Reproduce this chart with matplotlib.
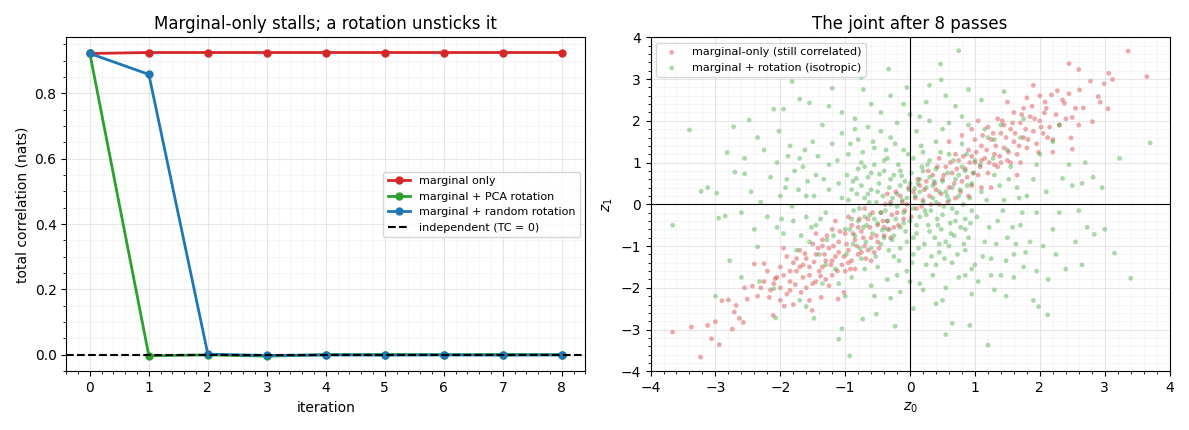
import matplotlib
matplotlib.use("Agg")
import matplotlib.pyplot as plt
import numpy as np

# left panel: total correlation per iteration
iters = [0, 1, 2, 3, 4, 5, 6, 7, 8]
tc_marginal = [0.922, 0.925, 0.925, 0.925, 0.925, 0.925, 0.925, 0.925, 0.925]
tc_pca = [0.922, -0.003, 0.000, -0.004, 0.000, 0.001, 0.000, 0.001, 0.000]
tc_random = [0.922, 0.858, 0.002, -0.002, 0.000, -0.001, 0.000, -0.001, 0.000]

# right panel: samples (a thinned, hand-estimated subset)
red_pts = [
    (-3.66, -3.06), (-3.37, -2.94), (-3.23, -3.66), (-3.06, -3.22), (-2.94, -3.36), (-3.0, -2.81),
    (-3.12, -2.90), (-2.90, -2.31), (-2.80, -2.29), (-2.74, -2.99), (-2.63, -2.73), (-2.57, -2.83),
    (-2.71, -2.58), (-2.68, -2.42), (-2.51, -2.27), (-2.43, -1.96), (-2.40, -1.43), (-2.25, -1.42),
    (-2.17, -2.23), (-2.08, -1.78), (-2.11, -2.66), (-1.94, -2.44), (-1.85, -2.06), (-1.77, -1.92),
    (-1.68, -2.11), (-1.51, -2.54), (-1.37, -2.23), (-1.02, -2.11), (-1.11, -2.27),
    (-2.3, -2.0), (-2.2, -1.6), (-2.0, -2.0), (-2.0, -1.5), (-1.95, -1.7), (-1.9, -1.25), (-1.85, -1.85),
    (-1.8, -1.4), (-1.75, -1.6), (-1.7, -1.1), (-1.65, -1.75), (-1.6, -1.3), (-1.55, -1.5), (-1.5, -0.95),
    (-1.5, -1.9), (-1.45, -1.2), (-1.4, -1.6), (-1.35, -0.85), (-1.3, -1.35), (-1.25, -1.05), (-1.2, -1.7),
    (-1.2, -0.6), (-1.15, -1.25), (-1.1, -0.9), (-1.05, -1.45), (-1.0, -0.7), (-0.95, -1.1), (-0.9, -0.5),
    (-0.9, -1.35), (-0.85, -0.85), (-0.8, -1.2), (-0.75, -0.65), (-0.7, -1.0), (-0.65, -0.35), (-0.6, -0.8),
    (-0.55, -1.15), (-0.5, -0.5), (-0.45, -0.2), (-0.4, -0.75), (-0.35, -0.4), (-0.3, 0.05), (-0.25, -0.55),
    (-0.2, -0.2), (-0.15, 0.2), (-0.1, -0.35), (-0.05, 0.0), (-2.1, -1.9), (-1.6, -2.0), (-1.3, -1.8),
    (-1.0, -1.6), (-1.75, -1.3), (-1.45, -0.7), (-1.15, -0.4), (-2.35, -2.2), (-2.55, -2.0), (-2.0, -2.3),
    (-1.9, -2.15), (-1.25, -1.95), (-0.85, -1.55), (-0.6, -1.35), (-1.35, -1.0), (-0.95, -0.3), (-0.7, -0.1),
    (-0.5, -0.9), (-0.3, -0.8), (-0.35, 0.25), (-1.55, -2.3), (-1.8, -2.4), (-1.1, -1.15), (-0.8, -0.55),
    (-0.65, -1.1), (-0.4, -0.55), (-1.95, -1.05), (-1.65, -1.45),
    (3.36, 3.67), (3.65, 3.06), (3.12, 2.99), (3.06, 3.14), (2.45, 3.37), (2.6, 3.23), (2.99, 2.89),
    (2.78, 2.95), (2.61, 2.74), (2.90, 2.58), (2.93, 2.45), (3.05, 2.29), (2.81, 1.98), (2.67, 2.31),
    (2.5, 2.08), (2.38, 2.42), (2.27, 2.72), (2.18, 2.62), (2.48, 1.59), (2.5, 1.32), (2.07, 2.19),
    (0.05, 0.3), (0.1, -0.1), (0.15, 0.45), (0.2, 0.1), (0.25, 0.55), (0.3, 0.2), (0.35, 0.7), (0.4, 0.35),
    (0.45, 0.0), (0.5, 0.6), (0.55, 0.9), (0.6, 0.4), (0.65, 0.75), (0.7, 0.15), (0.75, 1.05), (0.8, 0.55),
    (0.85, 0.85), (0.9, 1.3), (0.95, 0.45), (1.0, 1.0), (1.05, 0.7), (1.1, 1.4), (1.15, 1.1), (1.2, 0.75),
    (1.25, 1.55), (1.3, 1.2), (1.35, 0.9), (1.4, 1.7), (1.45, 1.35), (1.5, 1.05), (1.55, 1.8), (1.6, 1.5),
    (1.65, 1.2), (1.7, 1.95), (1.75, 1.6), (1.8, 1.35), (1.85, 2.1), (1.9, 1.75), (1.95, 1.45), (2.0, 2.0),
    (2.05, 1.7), (2.1, 2.3), (2.15, 1.85), (2.2, 1.55), (2.25, 2.15), (2.3, 1.9), (2.35, 2.5), (2.4, 2.05),
    (1.0, 1.55), (1.2, 1.85), (0.7, 1.2), (1.4, 1.0), (1.6, 2.2), (1.8, 2.55), (2.0, 2.6), (1.35, 2.05),
    (1.5, 2.45), (1.9, 2.85), (0.9, 0.2), (1.1, 0.4), (1.7, 1.0), (2.2, 1.25), (0.6, 1.5), (0.45, 1.1),
    (1.25, 0.4), (0.8, 1.65), (1.05, 2.0), (1.75, 2.3), (1.55, 1.0), (2.45, 2.65), (2.55, 2.3), (2.6, 1.9),
    (1.65, 0.7), (0.95, 1.8),
    (-1.62, -1.18), (-1.55, -1.7), (-1.48, -1.38), (-1.42, -1.05), (-1.38, -1.72), (-1.32, -1.2),
    (-1.28, -0.75), (-1.22, -1.45), (-1.18, -1.0), (-1.12, -1.6), (-1.08, -0.65), (-1.02, -1.25),
    (-0.98, -0.95), (-0.92, -1.55), (-0.88, -0.7), (-0.82, -1.0), (-0.78, -0.35), (-0.72, -0.8),
    (-0.68, -1.3), (-0.62, -0.55), (-0.58, -0.2), (-0.52, -0.75), (-0.48, -1.05), (-0.42, -0.4),
    (-0.38, 0.0), (-0.32, -0.6), (-0.28, -0.25), (-0.22, 0.3), (-0.18, -0.5), (-0.12, 0.05),
    (-0.08, -0.15), (-0.02, 0.4), (0.02, -0.3), (0.08, 0.15), (0.12, 0.6), (0.18, -0.05), (0.22, 0.35),
    (0.28, 0.8), (0.32, 0.0), (0.38, 0.5), (0.42, 0.9), (0.48, 0.25), (0.52, 0.7), (0.58, 0.05),
    (0.62, 1.0), (0.68, 0.5), (0.72, 0.85), (0.78, 0.3), (0.82, 1.15), (0.88, 0.65), (0.92, 1.0),
    (0.98, 0.75), (1.02, 1.25), (1.08, 0.9), (1.12, 1.65), (1.18, 1.3), (1.22, 1.0), (1.28, 1.7),
    (1.32, 1.4), (1.38, 1.15), (1.42, 2.0), (1.48, 1.6), (1.52, 1.25), (1.58, 1.95), (1.62, 1.7),
    (1.68, 1.4), (1.72, 2.15), (1.78, 1.8), (1.82, 1.55), (1.88, 2.35), (1.92, 2.05), (1.98, 1.25),
    (2.02, 1.85), (2.08, 2.45), (2.12, 1.6), (1.1, 1.05), (1.3, 0.95), (0.95, 1.15), (1.45, 1.9),
    (-1.7, -1.5), (-1.85, -1.6), (-2.05, -1.75), (-2.15, -2.05), (-2.25, -1.85), (-1.45, -1.85),
    (-1.2, -1.35), (-0.95, -1.4), (-1.35, -1.5), (-0.75, -1.15),
]

green_pts = [
    (-3.40, 1.78), (-3.66, -0.50), (-3.22, 0.31), (-3.12, 0.40), (-2.98, 0.27), (-2.95, -0.33),
    (-2.85, -0.28), (-2.82, 1.24), (-2.72, 1.86), (-2.70, 0.77), (-2.55, 0.73), (-2.48, 2.02),
    (-2.40, -0.60), (-2.35, -1.02), (-2.30, 0.05), (-2.20, -0.30), (-2.10, 2.28), (-2.02, 1.75),
    (-1.95, 2.28), (-1.82, 2.94), (-1.70, 2.52), (-1.55, 2.43), (-1.20, 2.78), (-0.75, 3.04),
    (-0.72, 2.75), (-0.33, 3.24), (-0.30, 2.60), (-0.05, 2.80), (0.47, 3.36), (0.48, 2.98),
    (0.75, 3.68), (0.30, 2.85), (1.10, 2.50), (0.90, 2.75), (1.45, 2.70), (2.35, 0.62), (2.50, 0.45),
    (2.65, 0.50), (2.82, 0.65), (2.96, 0.40), (2.84, -0.72), (2.73, -0.55), (3.15, -1.17),
    (3.40, -1.77), (3.70, 1.47), (3.23, 1.10), (2.65, -1.45), (2.40, -1.55), (2.13, -1.80),
    (2.12, -2.65), (1.90, -2.30), (1.98, -2.45), (1.48, -2.20), (1.20, -3.37), (0.92, -2.90),
    (0.65, -2.85), (0.55, -3.12), (0.40, -2.38), (0.05, -2.50), (-0.23, -2.92), (-0.52, -2.63),
    (-0.73, -2.75), (-0.93, -3.63), (-1.10, -3.23), (-1.05, -2.98), (-1.48, -2.73), (-2.07, -2.72),
    (-2.10, -2.02), (-2.32, -1.85), (-2.78, -1.35), (-3.00, -2.20), (-2.60, -1.75), (-1.70, -2.30),
    (2.20, 1.50), (2.00, 1.20), (2.45, 0.95), (-2.55, 1.10), (-1.60, -2.45),
    (-1.9, 0.6), (-1.8, -0.4), (-1.7, 1.1), (-1.6, 0.2), (-1.55, -0.9), (-1.5, 1.5), (-1.45, 0.7),
    (-1.4, -1.2), (-1.35, 1.9), (-1.3, -0.2), (-1.25, 0.95), (-1.2, 1.45), (-1.15, -1.55), (-1.1, 0.5),
    (-1.05, 1.7), (-1.0, -0.6), (-0.95, 1.2), (-0.9, -1.75), (-0.85, 2.05), (-0.8, 1.55), (-0.75, -1.3),
    (-0.7, 0.9), (-0.65, 1.85), (-0.6, -1.95), (-0.55, 1.35), (-0.5, -1.5), (-0.45, 2.2), (-0.4, 1.05),
    (-0.35, -1.8), (-0.3, 1.6), (-0.25, -1.25), (-0.2, 1.95), (-0.15, -2.1), (-0.1, 1.3), (-0.05, -1.6),
    (0.0, 2.15), (0.05, -1.2), (0.1, 1.75), (0.15, -1.9), (0.2, 1.25), (0.25, -1.45), (0.3, 2.0),
    (0.35, -1.7), (0.4, 1.5), (0.45, -1.15), (0.5, 1.8), (0.55, -2.0), (0.6, 1.2), (0.65, -1.4),
    (0.7, 2.35), (0.75, -1.75), (0.8, 1.45), (0.85, -1.1), (0.9, 1.9), (0.95, -1.55), (1.0, 1.05),
    (1.05, -1.85), (1.1, 0.3), (1.15, -0.9), (1.2, 1.6), (1.25, -1.3), (1.3, 0.7), (1.35, -0.4),
    (1.4, -1.7), (1.45, 0.1), (1.5, -0.8), (1.55, 0.9), (1.6, -1.2), (1.65, 0.4), (1.7, -0.5),
    (1.75, -1.5), (1.8, 0.2), (1.85, -0.9), (1.9, 0.6), (1.95, -0.2), (2.05, -1.0), (2.1, 0.3),
    (2.2, -0.6), (-2.0, 0.2), (-1.95, -0.7), (-2.05, 1.0), (-1.85, 1.4), (-1.75, -1.1), (-1.65, 0.9),
    (-1.6, -0.3), (1.5, 1.3), (1.3, 1.55), (-1.3, -1.45), (-1.45, -0.5), (1.15, 1.8), (-1.1, -1.9),
    (0.25, 2.45), (-0.6, 2.4), (1.6, -1.75), (-1.0, -2.2), (0.95, -2.15),
    (-0.95, 0.1), (-0.9, -0.35), (-0.88, 0.55), (-0.85, -0.75), (-0.82, 0.25), (-0.8, 0.85),
    (-0.78, -0.1), (-0.75, 0.45), (-0.72, -0.55), (-0.7, 0.15), (-0.68, -0.9), (-0.65, 0.65),
    (-0.62, -0.25), (-0.6, 0.35), (-0.58, -0.7), (-0.55, 0.95), (-0.52, 0.05), (-0.5, -0.45),
    (-0.48, 0.5), (-0.45, -0.95), (-0.42, 0.2), (-0.4, 0.8), (-0.38, -0.15), (-0.35, -0.6),
    (-0.32, 0.4), (-0.3, 0.0), (-0.28, -0.85), (-0.25, 0.7), (-0.22, -0.35), (-0.2, 0.25),
    (-0.18, 0.95), (-0.15, -0.55), (-0.12, 0.1), (-0.1, -0.2), (-0.08, 0.55), (-0.05, -0.9),
    (-0.02, 0.35), (0.0, -0.4), (0.02, 0.75), (0.05, -0.1), (0.08, 0.2), (0.1, -0.7), (0.12, 0.5),
    (0.15, -0.3), (0.18, 0.9), (0.2, 0.05), (0.22, -0.95), (0.25, 0.4), (0.28, -0.5), (0.3, 0.65),
    (0.32, -0.15), (0.35, 0.15), (0.38, -0.8), (0.4, 0.85), (0.42, -0.35), (0.45, 0.3), (0.48, -0.6),
    (0.5, 0.55), (0.52, -0.05), (0.55, -0.9), (0.58, 0.75), (0.6, 0.1), (0.62, -0.45), (0.65, 0.4),
    (0.68, -0.75), (0.7, 0.6), (0.72, -0.2), (0.75, 0.2), (0.78, -0.55), (0.8, 0.9), (0.82, 0.0),
    (0.85, -0.35), (0.88, 0.45), (0.9, -0.8), (0.92, 0.15), (0.95, -0.15), (-0.97, 0.7), (-0.93, -0.6),
    (-0.6, -1.05), (0.3, 1.05), (-0.35, 1.1), (0.6, -1.0), (-0.15, -1.05), (0.05, 1.1), (-0.75, 1.0),
    (0.85, 0.8), (-0.88, -0.95), (0.95, 0.5), (-0.45, -0.2), (0.15, 0.6), (-0.25, -0.75), (0.45, -0.95),
    (-0.65, 0.25), (0.35, 0.45), (-0.15, 0.45), (0.25, -0.25), (-0.55, -0.35), (0.55, 0.3), (-0.05, 0.15),
    (0.1, -0.5), (-0.3, 0.6), (0.65, -0.1), (-0.8, -0.4), (0.75, 0.7), (-0.4, -0.8), (0.2, 0.8),
    (-0.2, -0.05), (0.4, 0.05), (0.0, 0.5), (-0.6, 0.75), (0.85, -0.6), (-0.9, 0.35), (0.5, -0.25),
    (-0.1, -0.45), (0.3, -0.65), (-0.5, 0.3), (0.15, 0.3), (-0.35, -0.4), (0.7, -0.4), (-0.7, -0.3),
    (0.05, -0.8), (-0.15, 0.8),
    (-1.25, 0.35), (-1.18, -0.75), (-1.12, 1.05), (-1.05, 0.15), (-0.98, -1.2), (-0.92, 1.45),
    (-0.87, -0.15), (-0.83, 0.62), (-0.77, -1.05), (-0.73, 1.25), (-0.67, -0.5), (-0.63, 0.05),
    (-0.57, 1.5), (-0.53, -1.25), (-0.47, 0.72), (-0.43, -0.62), (-0.37, 1.3), (-0.33, -1.1),
    (-0.27, 0.15), (-0.23, 1.45), (-0.17, -1.35), (-0.13, 0.68), (-0.07, -0.65), (-0.03, 1.2),
    (0.03, -1.4), (0.07, 0.38), (0.13, -1.05), (0.17, 1.4), (0.23, -0.15), (0.27, 0.95), (0.33, -1.25),
    (0.37, 0.55), (0.43, -0.5), (0.47, 1.25), (0.53, -1.3), (0.57, 0.2), (0.63, -0.7), (0.67, 1.05),
    (0.73, -1.2), (0.77, 0.35), (0.83, -0.95), (0.87, 1.2), (0.93, -0.45), (0.97, 0.75), (1.03, -0.3),
    (1.08, 0.95), (1.12, -1.25), (1.18, 0.1), (1.22, -0.55), (1.28, 1.1), (1.33, -0.95), (1.38, 0.45),
    (1.43, -0.15), (1.48, -1.35), (1.52, 0.6), (1.58, -0.55), (1.63, -0.95), (1.68, 0.15), (1.73, -0.2),
    (1.78, -1.15), (-1.28, -0.85), (-1.33, 0.6), (-1.38, -0.35), (-1.42, 1.15), (-1.48, 0.2),
    (-1.52, -0.55), (-1.58, 0.55), (-1.62, 1.3), (-1.68, -0.75), (-1.72, 0.35), (-1.78, 0.8),
    (-1.82, -0.05), (-1.88, 1.15), (-1.92, 0.4), (-1.98, -0.35), (-2.15, 0.65), (-2.25, 1.3),
    (-2.05, -0.55), (-0.2, -1.7), (0.4, -1.45), (-0.85, 1.8), (0.6, 1.95), (-0.45, 1.75), (0.15, 2.1),
    (1.0, -1.45), (-0.7, -1.55), (0.0, -1.85), (0.85, -1.7), (1.25, -1.7), (-0.3, -2.25), (0.5, -2.3),
    (-1.05, 2.2), (-0.1, 2.4), (0.8, 2.1), (1.4, 1.9), (1.7, 1.6), (1.95, 0.95), (2.3, -0.2),
    (2.55, -0.9), (2.25, -1.2), (1.95, -1.6), (1.3, -2.05), (0.2, -2.05), (-0.55, -2.2), (-1.35, -1.9),
    (-2.45, 0.3), (-2.6, -0.2), (-2.35, 1.6), (-1.25, 2.35), (0.55, 2.6), (1.75, 2.05), (2.7, 1.0),
    (2.6, -0.15), (3.0, -0.6), (2.3, 1.9),
]

red = np.array(red_pts)
green = np.array(green_pts)

fig, (ax1, ax2) = plt.subplots(1, 2, figsize=(11.89, 4.3), dpi=100)

ax1.plot(iters, tc_marginal, '-o', color='tab:red', lw=2, ms=5, label='marginal only')
ax1.plot(iters, tc_pca, '-o', color='tab:green', lw=2, ms=5, label='marginal + PCA rotation')
ax1.plot(iters, tc_random, '-o', color='tab:blue', lw=2, ms=5, label='marginal + random rotation')
ax1.axhline(0, color='k', ls='--', lw=1.5, label='independent (TC = 0)')
ax1.set_xlabel('iteration')
ax1.set_ylabel('total correlation (nats)')
ax1.set_title('Marginal-only stalls; a rotation unsticks it')
ax1.minorticks_on()
ax1.grid(True, which='major', alpha=0.3)
ax1.grid(True, which='minor', alpha=0.1)
ax1.legend(loc='center right', fontsize=8)

ax2.scatter(red[:, 0], red[:, 1], s=12, color='tab:red', alpha=0.4, edgecolors='none',
            label='marginal-only (still correlated)')
ax2.scatter(green[:, 0], green[:, 1], s=12, color='tab:green', alpha=0.4, edgecolors='none',
            label='marginal + rotation (isotropic)')
ax2.axhline(0, color='k', lw=0.8)
ax2.axvline(0, color='k', lw=0.8)
ax2.set_xlim(-4, 4)
ax2.set_ylim(-4, 4)
ax2.set_xlabel('$z_0$')
ax2.set_ylabel('$z_1$')
ax2.set_title('The joint after 8 passes')
ax2.minorticks_on()
ax2.grid(True, which='major', alpha=0.3)
ax2.grid(True, which='minor', alpha=0.1)
ax2.legend(loc='upper left', fontsize=8)

plt.tight_layout()
plt.savefig('out.png', dpi=100)
